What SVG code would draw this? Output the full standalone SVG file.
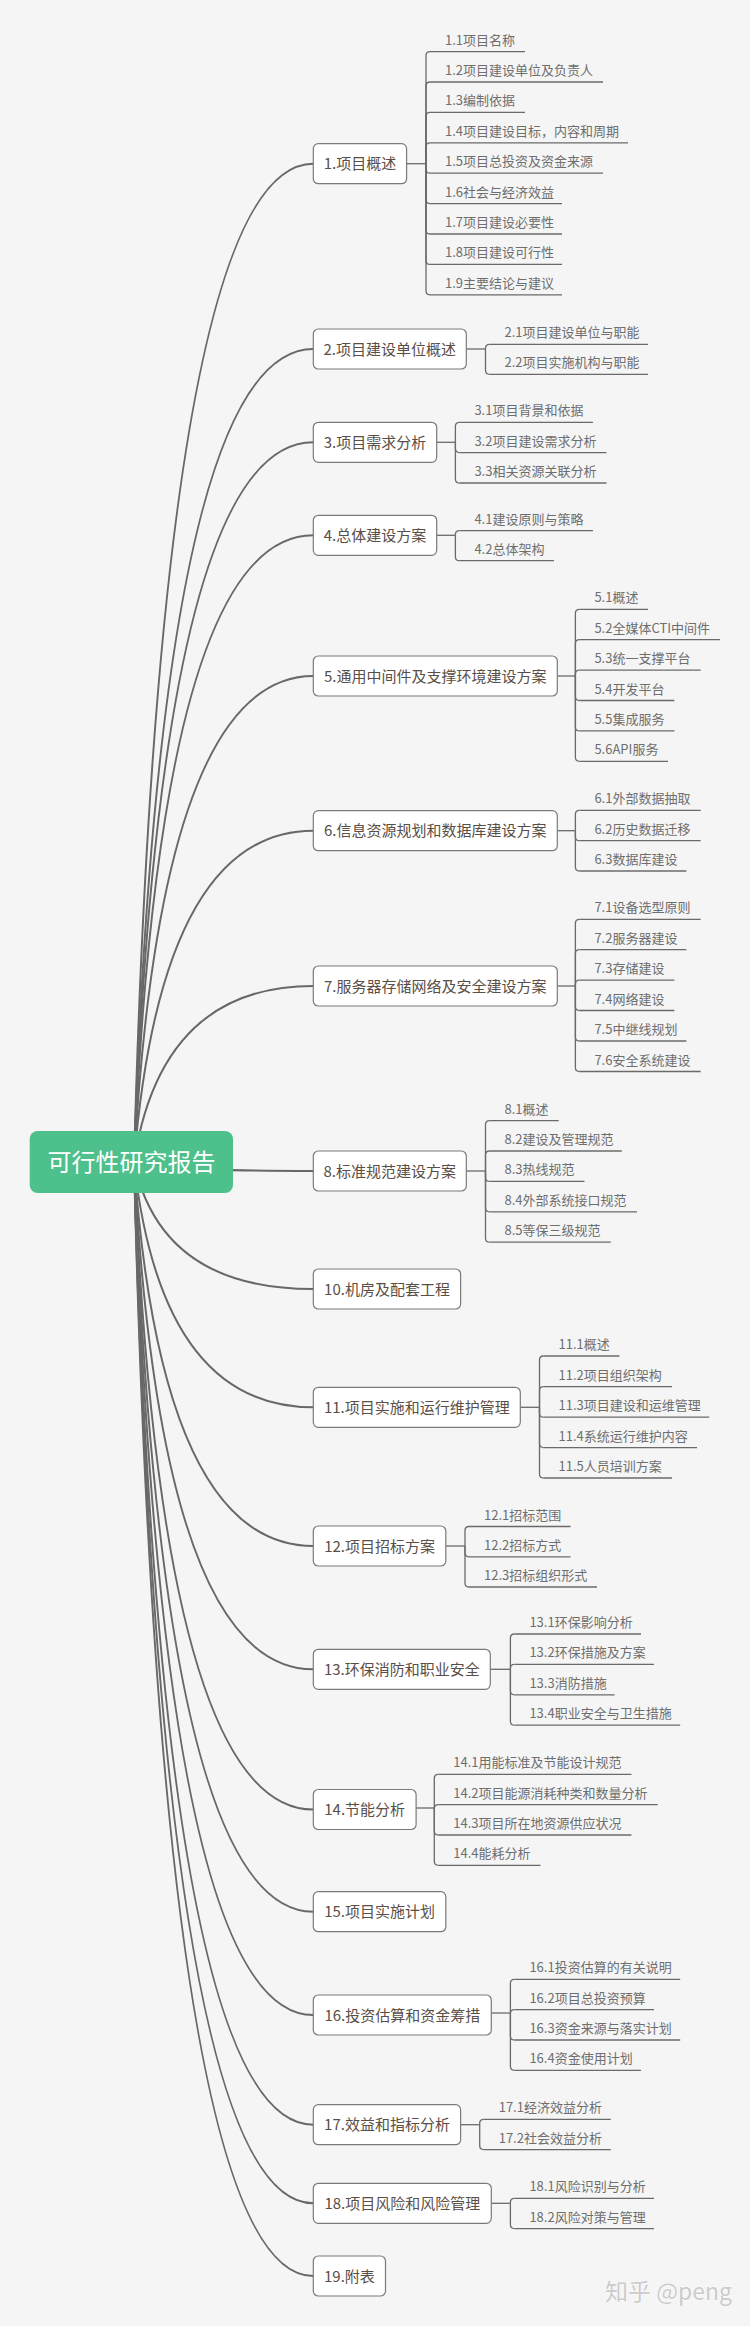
<svg xmlns="http://www.w3.org/2000/svg" width="750" height="2326" viewBox="0 0 750 2326">
<style>
.l1 rect{fill:#fff;stroke:#7a7a7a;stroke-width:1.2}
.t1{font-family:"Noto Sans CJK SC","Liberation Sans",sans-serif;font-size:15px;fill:#5a4e46;text-anchor:middle}
.t2{font-family:"Noto Sans CJK SC","Liberation Sans",sans-serif;font-size:13px;fill:#6e6e6e}
.ul{fill:none;stroke:#6a6a6a;stroke-width:1.3}
.br{fill:none;stroke:#6a6a6a;stroke-width:1.3}
.main{fill:none;stroke:#686868;stroke-width:2}
</style>
<rect width="750" height="2326" fill="#f5f5f5"/>
<g id="connectors">
<g class="main">
<path d="M134 1162 Q160.9 163.7 313.3 163.7"/>
<path d="M134 1162 Q160.9 349 313.3 349"/>
<path d="M134 1162 Q160.9 442.3 313.3 442.3"/>
<path d="M134 1162 Q160.9 535.3 313.3 535.3"/>
<path d="M134 1162 Q160.9 676 313.3 676"/>
<path d="M134 1162 Q160.9 830.7 313.3 830.7"/>
<path d="M134 1162 Q160.9 986 313.3 986"/>
<path d="M134 1162 Q160.9 1171 313.3 1171"/>
<path d="M134 1162 Q160.9 1289 313.3 1289"/>
<path d="M134 1162 Q160.9 1407.3 313.3 1407.3"/>
<path d="M134 1162 Q160.9 1546 313.3 1546"/>
<path d="M134 1162 Q160.9 1669.3 313.3 1669.3"/>
<path d="M134 1162 Q160.9 1809.5 313.3 1809.5"/>
<path d="M134 1162 Q160.9 1911.7 313.3 1911.7"/>
<path d="M134 1162 Q160.9 2015 313.3 2015"/>
<path d="M134 1162 Q160.9 2124.7 313.3 2124.7"/>
<path d="M134 1162 Q160.9 2203.3 313.3 2203.3"/>
<path d="M134 1162 Q160.9 2276 313.3 2276"/>
</g>
<g class="br">
<!-- 1 -->
<path d="M406.6 163.7 H426"/>
<path d="M426 163.7 V55.6 Q426 51.6 430 51.6"/>
<path d="M426 163.7 V86 Q426 82 430 82"/>
<path d="M426 163.7 V116.4 Q426 112.4 430 112.4"/>
<path d="M426 163.7 V146.8 Q426 142.8 430 142.8"/>
<path d="M426 163.7 V169.2 Q426 173.2 430 173.2"/>
<path d="M426 163.7 V199.6 Q426 203.6 430 203.6"/>
<path d="M426 163.7 V230 Q426 234 430 234"/>
<path d="M426 163.7 V260.4 Q426 264.4 430 264.4"/>
<path d="M426 163.7 V290.8 Q426 294.8 430 294.8"/>
<!-- 2 -->
<path d="M466.4 349 H485.5"/>
<path d="M485.5 349 V348.3 Q485.5 344.3 489.5 344.3"/>
<path d="M485.5 349 V370.3 Q485.5 374.3 489.5 374.3"/>
<!-- 3 -->
<path d="M436.7 442.3 H455.4"/>
<path d="M455.4 442.3 V426.3 Q455.4 422.3 459.4 422.3"/>
<path d="M455.4 442.3 V448.6 Q455.4 452.6 459.4 452.6"/>
<path d="M455.4 442.3 V479 Q455.4 483 459.4 483"/>
<!-- 4 -->
<path d="M436.7 535.3 H455.4"/>
<path d="M455.4 535.3 V534.7 Q455.4 530.7 459.4 530.7"/>
<path d="M455.4 535.3 V556.7 Q455.4 560.7 459.4 560.7"/>
<!-- 5 -->
<path d="M557.2 676 H575.4"/>
<path d="M575.4 676 V613.3 Q575.4 609.3 579.4 609.3"/>
<path d="M575.4 676 V643.7 Q575.4 639.7 579.4 639.7"/>
<path d="M575.4 676 V674.1 Q575.4 670.1 579.4 670.1"/>
<path d="M575.4 676 V696.5 Q575.4 700.5 579.4 700.5"/>
<path d="M575.4 676 V726.9 Q575.4 730.9 579.4 730.9"/>
<path d="M575.4 676 V757.3 Q575.4 761.3 579.4 761.3"/>
<!-- 6 -->
<path d="M557.2 830.7 H575.4"/>
<path d="M575.4 830.7 V814.3 Q575.4 810.3 579.4 810.3"/>
<path d="M575.4 830.7 V836.7 Q575.4 840.7 579.4 840.7"/>
<path d="M575.4 830.7 V867 Q575.4 871 579.4 871"/>
<!-- 7 -->
<path d="M557.2 986 H575.4"/>
<path d="M575.4 986 V923.3 Q575.4 919.3 579.4 919.3"/>
<path d="M575.4 986 V953.7 Q575.4 949.7 579.4 949.7"/>
<path d="M575.4 986 V984.1 Q575.4 980.1 579.4 980.1"/>
<path d="M575.4 986 V1006.5 Q575.4 1010.5 579.4 1010.5"/>
<path d="M575.4 986 V1037 Q575.4 1041 579.4 1041"/>
<path d="M575.4 986 V1067.5 Q575.4 1071.5 579.4 1071.5"/>
<!-- 8 -->
<path d="M466.4 1171 H485.5"/>
<path d="M485.5 1171 V1124.7 Q485.5 1120.7 489.5 1120.7"/>
<path d="M485.5 1171 V1155 Q485.5 1151 489.5 1151"/>
<path d="M485.5 1171 V1177.4 Q485.5 1181.4 489.5 1181.4"/>
<path d="M485.5 1171 V1207.8 Q485.5 1211.8 489.5 1211.8"/>
<path d="M485.5 1171 V1238.2 Q485.5 1242.2 489.5 1242.2"/>
<!-- 11 -->
<path d="M520.4 1407.3 H539.5"/>
<path d="M539.5 1407.3 V1360 Q539.5 1356 543.5 1356"/>
<path d="M539.5 1407.3 V1390.6 Q539.5 1386.6 543.5 1386.6"/>
<path d="M539.5 1407.3 V1413.2 Q539.5 1417.2 543.5 1417.2"/>
<path d="M539.5 1407.3 V1443.6 Q539.5 1447.6 543.5 1447.6"/>
<path d="M539.5 1407.3 V1474 Q539.5 1478 543.5 1478"/>
<!-- 12 -->
<path d="M445.8 1546 H465"/>
<path d="M465 1546 V1530.5 Q465 1526.5 469 1526.5"/>
<path d="M465 1546 V1552.8 Q465 1556.8 469 1556.8"/>
<path d="M465 1546 V1583 Q465 1587 469 1587"/>
<!-- 13 -->
<path d="M490.3 1669.3 H510.4"/>
<path d="M510.4 1669.3 V1638 Q510.4 1634 514.4 1634"/>
<path d="M510.4 1669.3 V1668.4 Q510.4 1664.4 514.4 1664.4"/>
<path d="M510.4 1669.3 V1690.8 Q510.4 1694.8 514.4 1694.8"/>
<path d="M510.4 1669.3 V1721.2 Q510.4 1725.2 514.4 1725.2"/>
<!-- 14 -->
<path d="M416.1 1808 H434.3"/>
<path d="M434.3 1808 V1778.3 Q434.3 1774.3 438.3 1774.3"/>
<path d="M434.3 1808 V1808.6 Q434.3 1804.6 438.3 1804.6"/>
<path d="M434.3 1808 V1831 Q434.3 1835 438.3 1835"/>
<path d="M434.3 1808 V1861.3 Q434.3 1865.3 438.3 1865.3"/>
<!-- 16 -->
<path d="M491.2 2013 H510.4"/>
<path d="M510.4 2013 V1983.3 Q510.4 1979.3 514.4 1979.3"/>
<path d="M510.4 2013 V2013.6 Q510.4 2009.6 514.4 2009.6"/>
<path d="M510.4 2013 V2036 Q510.4 2040 514.4 2040"/>
<path d="M510.4 2013 V2066.3 Q510.4 2070.3 514.4 2070.3"/>
<!-- 17 -->
<path d="M460.6 2124.7 H479.7"/>
<path d="M479.7 2124.7 V2123.3 Q479.7 2119.3 483.7 2119.3"/>
<path d="M479.7 2124.7 V2145.6 Q479.7 2149.6 483.7 2149.6"/>
<!-- 18 -->
<path d="M491.2 2203.3 H510.4"/>
<path d="M510.4 2203.3 V2202.3 Q510.4 2198.3 514.4 2198.3"/>
<path d="M510.4 2203.3 V2224.6 Q510.4 2228.6 514.4 2228.6"/>
</g>
</g>
<g id="root">
<rect x="29.7" y="1131" width="203.3" height="62" rx="8" fill="#4dc08b"/>
<text x="131.4" y="1170.5" font-family="Noto Sans CJK SC, Liberation Sans, sans-serif" font-size="24" fill="#ffffff" text-anchor="middle">可行性研究报告</text>
</g>
<g id="n1" class="l1"><rect x="313.3" y="143.7" width="93.3" height="40" rx="5"/><text class="t1" x="360" y="169.2">1.项目概述</text>
<g class="ul"><path d="M430 51.6H525"/><path d="M430 82H603"/><path d="M430 112.4H525"/><path d="M430 142.8H628"/><path d="M430 173.2H603"/><path d="M430 203.6H562"/><path d="M430 234H562"/><path d="M430 264.4H562"/><path d="M430 294.8H562"/></g>
<text class="t2" x="445" y="44.6">1.1项目名称</text><text class="t2" x="445" y="75">1.2项目建设单位及负责人</text><text class="t2" x="445" y="105.4">1.3编制依据</text><text class="t2" x="445" y="135.8">1.4项目建设目标，内容和周期</text><text class="t2" x="445" y="166.2">1.5项目总投资及资金来源</text><text class="t2" x="445" y="196.6">1.6社会与经济效益</text><text class="t2" x="445" y="227">1.7项目建设必要性</text><text class="t2" x="445" y="257.4">1.8项目建设可行性</text><text class="t2" x="445" y="287.8">1.9主要结论与建议</text></g>
<g id="n2" class="l1"><rect x="313.3" y="329" width="153" height="40" rx="5"/><text class="t1" x="389.8" y="354.5">2.项目建设单位概述</text>
<g class="ul"><path d="M489.5 344.3H648"/><path d="M489.5 374.3H648"/></g>
<text class="t2" x="504.5" y="337.3">2.1项目建设单位与职能</text><text class="t2" x="504.5" y="367.3">2.2项目实施机构与职能</text></g>
<g id="n3" class="l1"><rect x="313.3" y="422.3" width="123.4" height="40" rx="5"/><text class="t1" x="375" y="447.8">3.项目需求分析</text>
<g class="ul"><path d="M459.4 422.3H593"/><path d="M459.4 452.6H606.5"/><path d="M459.4 483H606.5"/></g>
<text class="t2" x="474.4" y="415.3">3.1项目背景和依据</text><text class="t2" x="474.4" y="445.6">3.2项目建设需求分析</text><text class="t2" x="474.4" y="476">3.3相关资源关联分析</text></g>
<g id="n4" class="l1"><rect x="313.3" y="515.3" width="123.4" height="40" rx="5"/><text class="t1" x="375" y="540.8">4.总体建设方案</text>
<g class="ul"><path d="M459.4 530.7H593"/><path d="M459.4 560.7H554"/></g>
<text class="t2" x="474.4" y="523.7">4.1建设原则与策略</text><text class="t2" x="474.4" y="553.7">4.2总体架构</text></g>
<g id="n5" class="l1"><rect x="313.3" y="656" width="244" height="40" rx="5"/><text class="t1" x="435.3" y="681.5">5.通用中间件及支撑环境建设方案</text>
<g class="ul"><path d="M579.4 609.3H648"/><path d="M579.4 639.7H720"/><path d="M579.4 670.1H700.7"/><path d="M579.4 700.5H674.4"/><path d="M579.4 730.9H674.4"/><path d="M579.4 761.3H668"/></g>
<text class="t2" x="594.4" y="602.3">5.1概述</text><text class="t2" x="594.4" y="632.7">5.2全媒体CTI中间件</text><text class="t2" x="594.4" y="663.1">5.3统一支撑平台</text><text class="t2" x="594.4" y="693.5">5.4开发平台</text><text class="t2" x="594.4" y="723.9">5.5集成服务</text><text class="t2" x="594.4" y="754.3">5.6API服务</text></g>
<g id="n6" class="l1"><rect x="313.3" y="810.7" width="244" height="40" rx="5"/><text class="t1" x="435.3" y="836.2">6.信息资源规划和数据库建设方案</text>
<g class="ul"><path d="M579.4 810.3H700.7"/><path d="M579.4 840.7H700.7"/><path d="M579.4 871H686.4"/></g>
<text class="t2" x="594.4" y="803.3">6.1外部数据抽取</text><text class="t2" x="594.4" y="833.7">6.2历史数据迁移</text><text class="t2" x="594.4" y="864">6.3数据库建设</text></g>
<g id="n7" class="l1"><rect x="313.3" y="966" width="244" height="40" rx="5"/><text class="t1" x="435.3" y="991.5">7.服务器存储网络及安全建设方案</text>
<g class="ul"><path d="M579.4 919.3H700.7"/><path d="M579.4 949.7H686.4"/><path d="M579.4 980.1H674.4"/><path d="M579.4 1010.5H674.4"/><path d="M579.4 1041H686.4"/><path d="M579.4 1071.5H700.7"/></g>
<text class="t2" x="594.4" y="912.3">7.1设备选型原则</text><text class="t2" x="594.4" y="942.7">7.2服务器建设</text><text class="t2" x="594.4" y="973.1">7.3存储建设</text><text class="t2" x="594.4" y="1003.5">7.4网络建设</text><text class="t2" x="594.4" y="1034">7.5中继线规划</text><text class="t2" x="594.4" y="1064.5">7.6安全系统建设</text></g>
<g id="n8" class="l1"><rect x="313.3" y="1151" width="153" height="40" rx="5"/><text class="t1" x="389.8" y="1176.5">8.标准规范建设方案</text>
<g class="ul"><path d="M489.5 1120.7H558.7"/><path d="M489.5 1151H621.8"/><path d="M489.5 1181.4H584.5"/><path d="M489.5 1211.8H637"/><path d="M489.5 1242.2H610.8"/></g>
<text class="t2" x="504.5" y="1113.7">8.1概述</text><text class="t2" x="504.5" y="1144">8.2建设及管理规范</text><text class="t2" x="504.5" y="1174.4">8.3热线规范</text><text class="t2" x="504.5" y="1204.8">8.4外部系统接口规范</text><text class="t2" x="504.5" y="1235.2">8.5等保三级规范</text></g>
<g id="n10" class="l1"><rect x="313.3" y="1269" width="147.3" height="40" rx="5"/><text class="t1" x="387" y="1294.5">10.机房及配套工程</text></g>
<g id="n11" class="l1"><rect x="313.3" y="1387.3" width="207" height="40" rx="5"/><text class="t1" x="416.8" y="1412.8">11.项目实施和运行维护管理</text>
<g class="ul"><path d="M543.5 1356H619.4"/><path d="M543.5 1386.6H672"/><path d="M543.5 1417.2H709.3"/><path d="M543.5 1447.6H697"/><path d="M543.5 1478H672"/></g>
<text class="t2" x="558.5" y="1349">11.1概述</text><text class="t2" x="558.5" y="1379.6">11.2项目组织架构</text><text class="t2" x="558.5" y="1410.2">11.3项目建设和运维管理</text><text class="t2" x="558.5" y="1440.6">11.4系统运行维护内容</text><text class="t2" x="558.5" y="1471">11.5人员培训方案</text></g>
<g id="n12" class="l1"><rect x="313.3" y="1526" width="132.5" height="40" rx="5"/><text class="t1" x="379.6" y="1551.5">12.项目招标方案</text>
<g class="ul"><path d="M469 1526.5H570.6"/><path d="M469 1556.8H570.6"/><path d="M469 1587H597"/></g>
<text class="t2" x="484" y="1519.5">12.1招标范围</text><text class="t2" x="484" y="1549.8">12.2招标方式</text><text class="t2" x="484" y="1580">12.3招标组织形式</text></g>
<g id="n13" class="l1"><rect x="313.3" y="1649.3" width="177" height="40" rx="5"/><text class="t1" x="401.8" y="1674.8">13.环保消防和职业安全</text>
<g class="ul"><path d="M514.4 1634H641"/><path d="M514.4 1664.4H654"/><path d="M514.4 1694.8H614.6"/><path d="M514.4 1725.2H680.2"/></g>
<text class="t2" x="529.4" y="1627">13.1环保影响分析</text><text class="t2" x="529.4" y="1657.4">13.2环保措施及方案</text><text class="t2" x="529.4" y="1687.8">13.3消防措施</text><text class="t2" x="529.4" y="1718.2">13.4职业安全与卫生措施</text></g>
<g id="n14" class="l1"><rect x="313.3" y="1789.5" width="102.8" height="40" rx="5"/><text class="t1" x="364.7" y="1815">14.节能分析</text>
<g class="ul"><path d="M438.3 1774.3H631.4"/><path d="M438.3 1804.6H657.7"/><path d="M438.3 1835H631.4"/><path d="M438.3 1865.3H540.5"/></g>
<text class="t2" x="453.3" y="1767.3">14.1用能标准及节能设计规范</text><text class="t2" x="453.3" y="1797.6">14.2项目能源消耗种类和数量分析</text><text class="t2" x="453.3" y="1828">14.3项目所在地资源供应状况</text><text class="t2" x="453.3" y="1858.3">14.4能耗分析</text></g>
<g id="n15" class="l1"><rect x="313.3" y="1891.7" width="132.5" height="40" rx="5"/><text class="t1" x="379.6" y="1917.2">15.项目实施计划</text></g>
<g id="n16" class="l1"><rect x="313.3" y="1995" width="178" height="40" rx="5"/><text class="t1" x="402.3" y="2020.5">16.投资估算和资金筹措</text>
<g class="ul"><path d="M514.4 1979.3H680.2"/><path d="M514.4 2009.6H654"/><path d="M514.4 2040H680.2"/><path d="M514.4 2070.3H641"/></g>
<text class="t2" x="529.4" y="1972.3">16.1投资估算的有关说明</text><text class="t2" x="529.4" y="2002.6">16.2项目总投资预算</text><text class="t2" x="529.4" y="2033">16.3资金来源与落实计划</text><text class="t2" x="529.4" y="2063.3">16.4资金使用计划</text></g>
<g id="n17" class="l1"><rect x="313.3" y="2104.7" width="147.3" height="40" rx="5"/><text class="t1" x="387" y="2130.2">17.效益和指标分析</text>
<g class="ul"><path d="M483.7 2119.3H610.8"/><path d="M483.7 2149.6H610.8"/></g>
<text class="t2" x="498.7" y="2112.3">17.1经济效益分析</text><text class="t2" x="498.7" y="2142.6">17.2社会效益分析</text></g>
<g id="n18" class="l1"><rect x="313.3" y="2183.3" width="178" height="40" rx="5"/><text class="t1" x="402.3" y="2208.8">18.项目风险和风险管理</text>
<g class="ul"><path d="M514.4 2198.3H654"/><path d="M514.4 2228.6H654"/></g>
<text class="t2" x="529.4" y="2191.3">18.1风险识别与分析</text><text class="t2" x="529.4" y="2221.6">18.2风险对策与管理</text></g>
<g id="n19" class="l1"><rect x="313.3" y="2256" width="72.2" height="40" rx="5"/><text class="t1" x="349.4" y="2281.5">19.附表</text></g>
<text x="605" y="2300" font-family="Noto Sans CJK SC, Liberation Sans, sans-serif" font-size="23" fill="#cbcbcb" stroke="#ffffff" stroke-width="0.8" paint-order="stroke">知乎 @peng</text>
</svg>
